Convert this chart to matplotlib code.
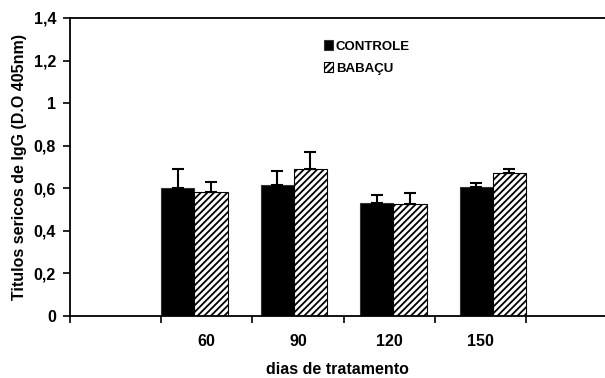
import matplotlib
matplotlib.use("Agg")
import matplotlib.pyplot as plt
import numpy as np

plt.rcParams['font.family'] = ['Liberation Sans', 'DejaVu Sans']
plt.rcParams['font.weight'] = 'bold'
plt.rcParams['axes.labelweight'] = 'bold'
plt.rcParams['hatch.linewidth'] = 1.3

# data
days = ["60", "90", "120", "150"]
controle = [0.603, 0.614, 0.532, 0.607]
controle_err = [0.089, 0.067, 0.038, 0.019]
babacu = [0.581, 0.692, 0.526, 0.670]
babacu_err = [0.050, 0.078, 0.052, 0.022]

fig = plt.figure(figsize=(6.05, 3.78), dpi=100)
ax = fig.add_axes([70 / 605, 1 - 316 / 378, 1 - 70 / 605, 298 / 378])

# excel-like layout: 6 categories, bars spread over the middle four
w = 4 / 11
starts = 1 + np.arange(len(days)) * 3 * w
ax.bar(starts, controle, width=w, align="edge", color="black", edgecolor="#333333",
       linewidth=0.8, label="CONTROLE", zorder=2)
ax.bar(starts + w, babacu, width=w, align="edge", color="white", edgecolor="black",
       hatch="/////", linewidth=0.8, label="BABAÇU", zorder=2)
ax.errorbar(starts + w / 2, controle, yerr=[np.zeros(4), controle_err], fmt="none",
            ecolor="black", elinewidth=1.5, capsize=4, capthick=1.5, zorder=3)
ax.errorbar(starts + 1.5 * w, babacu, yerr=[np.zeros(4), babacu_err], fmt="none",
            ecolor="black", elinewidth=1.5, capsize=4, capthick=1.5, zorder=3)

ax.set_xlim(0, 535 / 91.2)
ax.set_ylim(0, 1.4)
ax.set_xticks(np.arange(0, 6))
ax.set_xticklabels([])
ax.set_xticks(np.arange(len(days)) + 1.5, minor=True)
ax.set_xticklabels(days, minor=True)
ax.tick_params(axis="x", which="minor", length=0, pad=13, labelsize=11.5)
ax.tick_params(axis="x", which="major", direction="out", length=5, width=1.2)
yt = np.arange(0, 1.41, 0.2)
ax.set_yticks(yt)
ax.set_yticklabels(["0" if v == 0 else ("1" if abs(v - 1) < 1e-9 else f"{v:.1f}".replace(".", ","))
                    for v in yt])
ax.tick_params(axis="y", direction="out", length=5, width=1.2, labelsize=11.5, pad=5)

for s in ["left", "top", "bottom"]:
    ax.spines[s].set_linewidth(1.3)
ax.spines["right"].set_visible(False)

ax.set_xlabel("dias de tratamento", fontsize=11.5, fontweight="bold", labelpad=9)
ax.set_ylabel("Titulos sericos de IgG (D.O 405nm)", fontsize=11.5, fontweight="bold",
              labelpad=5)

ax.legend(loc="upper left", bbox_to_anchor=(0.475, 0.925), frameon=False, fontsize=9.5,
          handlelength=0.7, handleheight=0.7, handletextpad=0.2, labelspacing=0.75,
          borderpad=0, borderaxespad=0)

fig.savefig("out.png", dpi=100)
